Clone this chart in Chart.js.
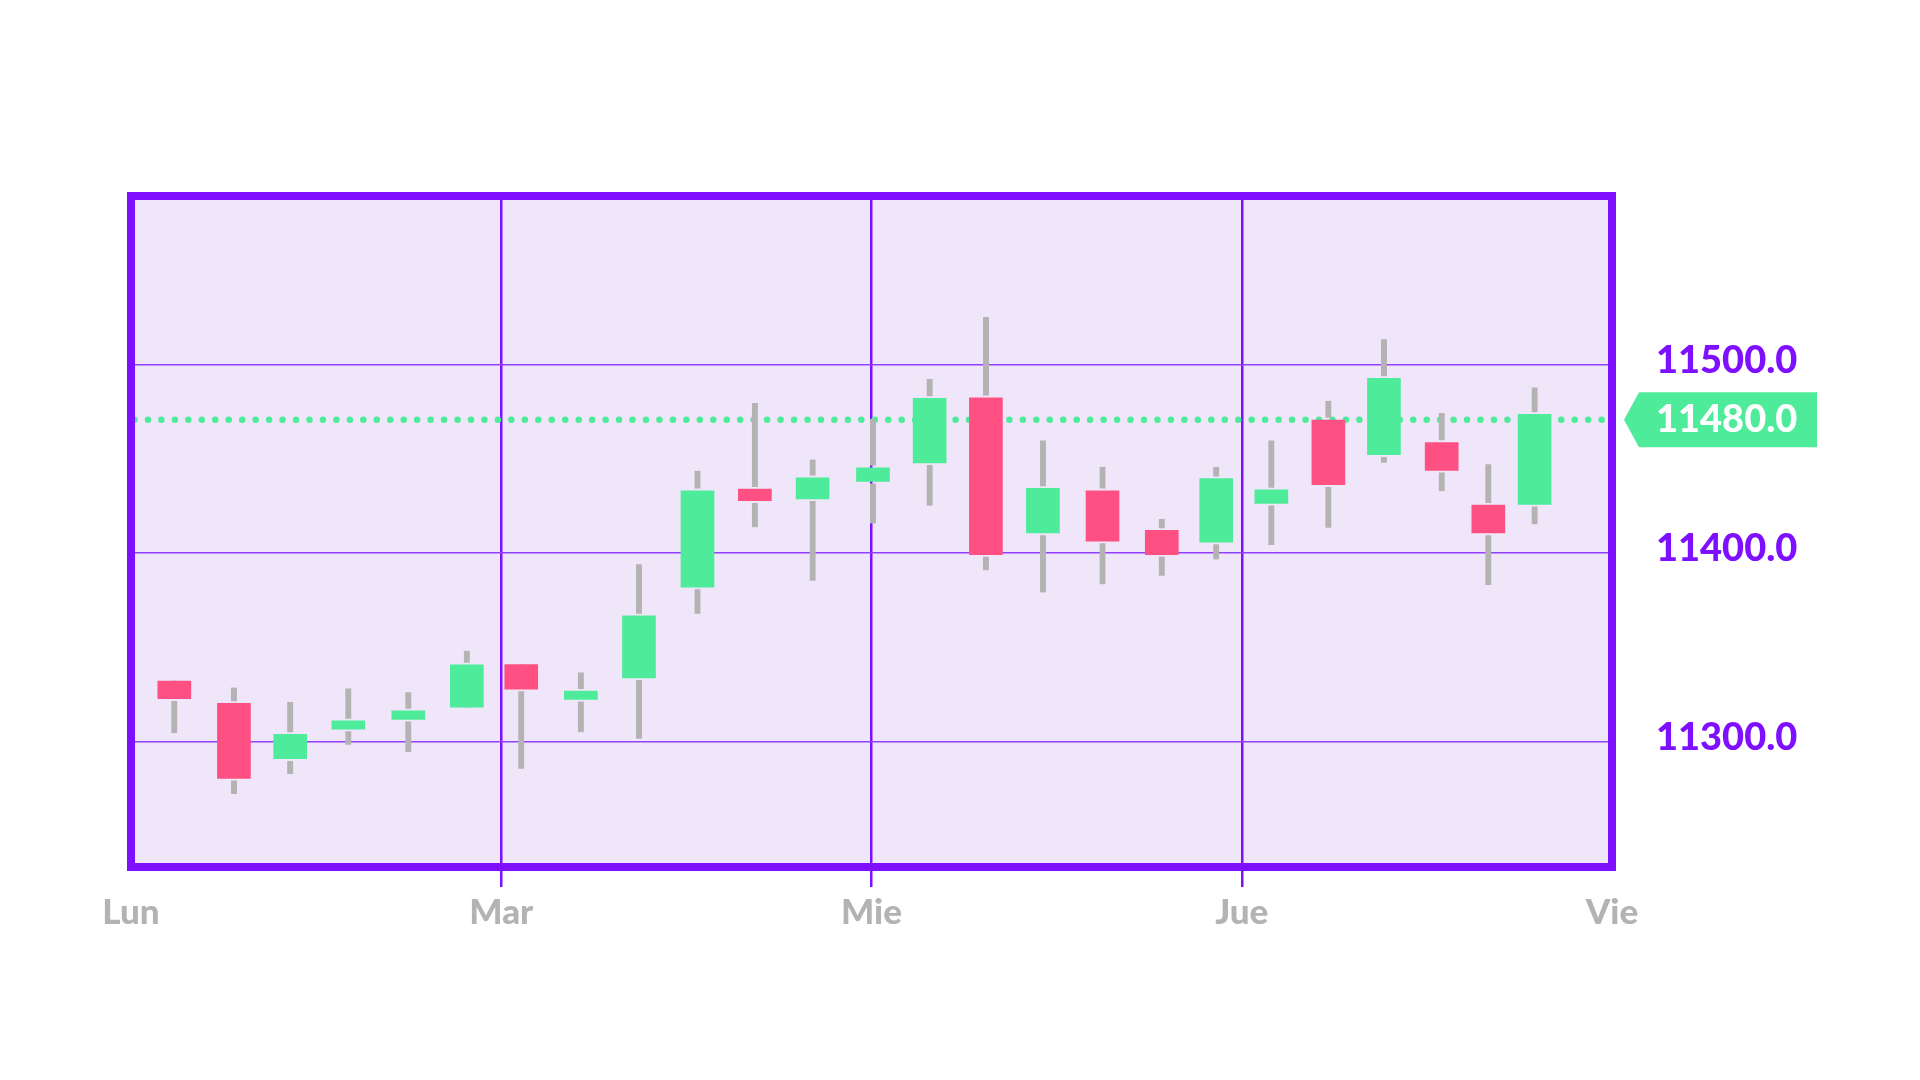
<!DOCTYPE html>
<html>
<head>
<meta charset="utf-8">
<script src="https://cdn.jsdelivr.net/npm/chart.js@4.4.1/dist/chart.umd.min.js"></script>
<style>
html,body{margin:0;padding:0;background:#ffffff;}
#wrap{width:1920px;height:1080px;position:relative;}
</style>
</head>
<body>
<div id="wrap"><canvas id="c"></canvas></div>
<script>
// ---- data ----
const dayLabels = ['Lun', 'Mar', 'Mie', 'Jue', 'Vie'];
// candle time, in days from Monday
const times = [0.117, 0.278, 0.430, 0.587, 0.749, 0.907, 1.054, 1.215, 1.372, 1.530, 1.685, 1.841,
               2.004, 2.157, 2.309, 2.463, 2.624, 2.784, 2.931, 3.080, 3.234, 3.384, 3.540, 3.666, 3.791];
const opens  = [11332.2, 11320.4, 11291.0, 11306.7, 11311.9, 11318.4, 11341.0, 11322.5, 11333.9, 11382.0, 11434.0, 11428.8,
                11438.1, 11447.9, 11482.4, 11410.7, 11433.1, 11412.1, 11405.9, 11426.4, 11470.6, 11452.2, 11458.7, 11425.5, 11425.9];
const highs  = [11332.2, 11328.8, 11321.1, 11328.3, 11326.2, 11348.3, 11341.0, 11336.8, 11394.1, 11443.7, 11479.6, 11449.7,
                11471.1, 11492.3, 11525.2, 11459.8, 11445.8, 11418.1, 11445.7, 11459.8, 11480.8, 11513.5, 11474.4, 11447.2, 11487.9];
const lows   = [11304.5, 11272.3, 11282.9, 11298.4, 11294.5, 11318.4, 11285.7, 11305.1, 11301.6, 11367.9, 11413.8, 11385.4,
                11415.8, 11425.1, 11390.9, 11379.2, 11383.5, 11388.0, 11396.7, 11404.3, 11413.5, 11447.9, 11432.9, 11383.1, 11415.3];
const closes = [11322.8, 11280.6, 11303.9, 11311.1, 11316.4, 11340.8, 11327.9, 11326.9, 11366.8, 11433.1, 11427.8, 11440.0,
                11445.3, 11482.1, 11399.2, 11434.4, 11406.4, 11399.2, 11439.5, 11433.6, 11436.3, 11492.7, 11443.9, 11410.7, 11473.6];
const currentLevel = 11470.7;
const currentLabel = '11480.0';
const yMin = 11233.6;
const yMax = 11589.4;
const yStep = 100;

// ---- styles ----
const PURPLE = '#7f0fff';
const GREEN = '#4eeb9b';
const RED = '#ff5083';
const WICK = '#b3b3b3';
const PLOT_BG = '#efe6fa';

const bodyData = times.map((t, i) => ({ x: t, y: [opens[i], closes[i]] }));
const upperWick = times.map((t, i) => ({ x: t, y: [Math.max(opens[i], closes[i]), highs[i]] }));
const lowerWick = times.map((t, i) => ({ x: t, y: [lows[i], Math.min(opens[i], closes[i])] }));

const decor = {
  id: 'decor',
  beforeDraw(chart) {
    const { ctx, chartArea: a } = chart;
    ctx.save();
    ctx.fillStyle = PLOT_BG;
    ctx.fillRect(a.left, a.top, a.right - a.left, a.bottom - a.top);
    ctx.restore();
  },
  beforeDatasetsDraw(chart) {
    const { ctx, chartArea: a, scales } = chart;
    const py = scales.y.getPixelForValue(currentLevel);
    ctx.save();
    ctx.strokeStyle = GREEN;
    ctx.lineWidth = 6.5;
    ctx.lineCap = 'round';
    ctx.setLineDash([0, 13.46]);
    ctx.beginPath();
    ctx.moveTo(a.left + 3.5, py);
    ctx.lineTo(a.right - 4, py);
    ctx.stroke();
    ctx.restore();
  },
  afterDraw(chart) {
    const { ctx, chartArea: a, scales } = chart;
    ctx.save();
    ctx.strokeStyle = PURPLE;
    ctx.lineWidth = 8;
    ctx.strokeRect(a.left, a.top, a.right - a.left, a.bottom - a.top);
    const py = scales.y.getPixelForValue(currentLevel);
    const h = 27.5;
    ctx.fillStyle = GREEN;
    ctx.beginPath();
    ctx.moveTo(a.right + 12, py);
    ctx.lineTo(a.right + 27, py - h);
    ctx.lineTo(a.right + 205, py - h);
    ctx.lineTo(a.right + 205, py + h);
    ctx.lineTo(a.right + 27, py + h);
    ctx.closePath();
    ctx.fill();
    ctx.fillStyle = '#ffffff';
    ctx.font = '900 38px Lato';
    ctx.textBaseline = 'middle';
    ctx.textAlign = 'left';
    ctx.fillText(currentLabel, a.right + 44, py);
    ctx.restore();
  }
};

Chart.defaults.font.family = 'Lato';

new Chart(document.getElementById('c'), {
  type: 'bar',
  data: {
    datasets: [
      {
        label: 'body',
        data: bodyData,
        backgroundColor: (c) => {
          const i = c.dataIndex;
          return closes[i] >= opens[i] ? GREEN : RED;
        },
        borderWidth: 0,
        barThickness: 33,
        grouped: false
      },
      {
        label: 'upper',
        data: upperWick,
        backgroundColor: WICK,
        borderColor: 'rgba(0,0,0,0)',
        borderWidth: { top: 0, right: 0, bottom: 2.5, left: 0 },
        borderSkipped: false,
        barThickness: 6,
        grouped: false
      },
      {
        label: 'lower',
        data: lowerWick,
        backgroundColor: WICK,
        borderColor: 'rgba(0,0,0,0)',
        borderWidth: { top: 2.5, right: 0, bottom: 0, left: 0 },
        borderSkipped: false,
        barThickness: 6,
        grouped: false
      }
    ]
  },
  options: {
    responsive: true,
    maintainAspectRatio: false,
    animation: false,
    devicePixelRatio: 1,
    layout: { padding: { top: 196, left: 131, right: 0, bottom: 0 } },
    plugins: { legend: { display: false }, tooltip: { enabled: false } },
    scales: {
      x: {
        type: 'linear',
        position: 'bottom',
        min: 0,
        max: dayLabels.length - 1,
        offset: false,
        afterFit(s) { s.height = 213; },
        grid: {
          offset: false,
          color: (c) => (c.tick && (c.tick.value === 0 || c.tick.value === dayLabels.length - 1)) ? 'rgba(0,0,0,0)' : PURPLE,
          lineWidth: 2.5,
          tickLength: 20,
          tickWidth: 2.5
        },
        border: { display: false },
        ticks: {
          stepSize: 1,
          padding: 5,
          color: '#b3b3b3',
          font: { family: 'Lato', weight: '900', size: 35 },
          maxRotation: 0,
          callback: (v) => dayLabels[Math.round(v)] ?? ''
        }
      },
      y: {
        type: 'linear',
        position: 'right',
        min: yMin,
        max: yMax,
        afterFit(s) { s.width = 308; },
        grid: { color: '#9140ff', lineWidth: 1.5, drawTicks: false },
        border: { display: false },
        ticks: {
          stepSize: yStep,
          includeBounds: false,
          padding: 44,
          labelOffset: -4,
          color: PURPLE,
          font: { family: 'Lato', weight: '900', size: 38 },
          callback: (v) => Number(v).toFixed(1)
        }
      }
    }
  },
  plugins: [decor]
});
</script>
</body>
</html>
